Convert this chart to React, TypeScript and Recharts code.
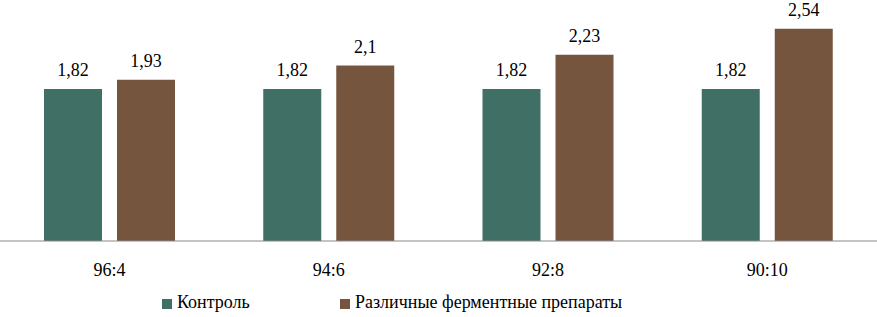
import React from "react";
import { BarChart, Bar, XAxis, YAxis, Legend, LabelList } from "recharts";

const categories = ["96:4", "94:6", "92:8", "90:10"];
const controlValues = [1.82, 1.82, 1.82, 1.82];
const enzymeValues = [1.93, 2.1, 2.23, 2.54];
const seriesNames = ["Контроль", "Различные ферментные препараты"];

const TEAL = "#406f66";
const BROWN = "#76553e";
const FONT = "'Liberation Serif', 'Times New Roman', serif";

const data = categories.map((c, i) => ({
  name: c,
  control: controlValues[i],
  enzyme: enzymeValues[i],
}));

const fmt = (v: any) => String(v).replace(".", ",");

const LegendContent = () => (
  <div
    style={{
      display: "flex",
      paddingLeft: 162,
      paddingTop: 12,
      height: 30,
      boxSizing: "border-box",
      fontSize: 18,
      lineHeight: "18px",
      color: "#000",
    }}
  >
    {[TEAL, BROWN].map((color, i) => (
      <div
        key={i}
        style={{ display: "flex", alignItems: "center", width: i === 0 ? 178 : "auto" }}
      >
        <span
          style={{
            display: "inline-block",
            width: 10,
            height: 10,
            background: color,
            marginTop: 3,
          }}
        />
        <span style={{ marginLeft: 5 }}>{seriesNames[i]}</span>
      </div>
    ))}
  </div>
);

export default function App() {
  return (
    <div className="chart-root" style={{ position: "absolute", left: 0, top: 0, background: "#fff" }}>
      <style>{`.chart-root, .chart-root * , .chart-root text { font-family: ${FONT} !important; }`}</style>
      <BarChart
        width={877}
        height={317}
        data={data}
        margin={{ top: 7, right: 0, left: 0, bottom: 6 }}
        barSize={58}
        barGap={15}
      >
        <XAxis
          dataKey="name"
          axisLine={{ stroke: "#898989", strokeWidth: 1 }}
          tickLine={false}
          tickSize={0}
          tickMargin={22}
          height={40}
          tick={{ fill: "#000", fontSize: 18 }}
        />
        <YAxis hide domain={[0, 2.8]} />
        <Legend verticalAlign="bottom" content={<LegendContent />} />
        <Bar dataKey="control" name={seriesNames[0]} fill={TEAL} isAnimationActive={false}>
          <LabelList
            dataKey="control"
            position="top"
            offset={13}
            formatter={fmt}
            fill="#000"
            fontSize={18}
          />
        </Bar>
        <Bar dataKey="enzyme" name={seriesNames[1]} fill={BROWN} isAnimationActive={false}>
          <LabelList
            dataKey="enzyme"
            position="top"
            offset={13}
            formatter={fmt}
            fill="#000"
            fontSize={18}
          />
        </Bar>
      </BarChart>
    </div>
  );
}
